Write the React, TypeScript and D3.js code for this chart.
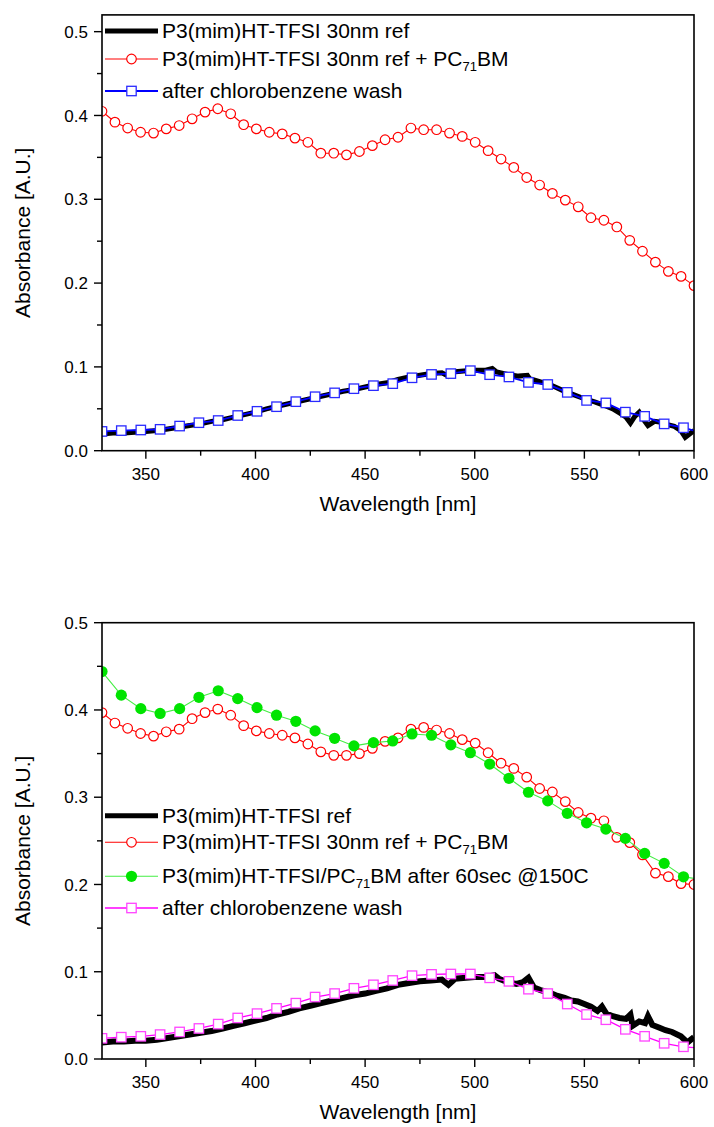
import React from "react";
import * as d3 from "d3";

// ---------- shared axes ----------
const xDomain = [330, 600];
const xMajorTicks = [350, 400, 450, 500, 550, 600];
const xMinorTicks = [375, 425, 475, 525, 575];
const yMajorTicks = [0.0, 0.1, 0.2, 0.3, 0.4, 0.5];
const yMinorTicks = [0.05, 0.15, 0.25, 0.35, 0.45];
const xTitle = "Wavelength [nm]";
const yTitle = "Absorbance [A.U.]";

// marker wavelengths
const circleNm = [330, 335.9, 341.7, 347.6, 353.5, 359.3, 365.2, 371.1, 377.0, 382.8, 388.7, 394.6, 400.4, 406.3, 412.2, 418.0, 423.9, 429.8, 435.7, 441.5, 447.4, 453.3, 459.1, 465.0, 470.9, 476.7, 482.6, 488.5, 494.3, 500.2, 506.1, 512.0, 517.8, 523.7, 529.6, 535.4, 541.3, 547.2, 553.0, 558.9, 564.8, 570.7, 576.5, 582.4, 588.3, 594.1, 600];
const squareNm = [330, 338.8, 347.7, 356.5, 365.4, 374.2, 383.0, 391.9, 400.7, 409.6, 418.4, 427.2, 436.1, 444.9, 453.8, 462.6, 471.4, 480.3, 489.1, 498.0, 506.8, 515.6, 524.5, 533.3, 542.2, 551.0, 559.8, 568.7, 577.5, 586.4, 595.2, 600];

// ---------- top panel ----------
const topBlackNm = [330, 335, 340, 345, 350, 355, 360, 365, 370, 375, 380, 385, 390, 395, 400, 405, 410, 415, 420, 425, 430, 435, 440, 445, 450, 455, 460, 465, 470, 475, 480, 485, 488, 490, 495, 500, 505, 508, 510, 515, 520, 524, 525, 530, 535, 540, 545, 550, 555, 560, 563, 566, 569, 571, 573, 575, 577, 579, 582, 585, 588, 591, 594, 596, 598, 600];
const topBlack = [0.020, 0.021, 0.021, 0.022, 0.023, 0.024, 0.026, 0.028, 0.030, 0.032, 0.035, 0.037, 0.040, 0.043, 0.046, 0.050, 0.053, 0.056, 0.059, 0.062, 0.065, 0.068, 0.071, 0.073, 0.076, 0.079, 0.081, 0.085, 0.088, 0.090, 0.092, 0.093, 0.089, 0.094, 0.095, 0.096, 0.096, 0.098, 0.094, 0.091, 0.089, 0.090, 0.086, 0.082, 0.078, 0.072, 0.067, 0.062, 0.058, 0.053, 0.050, 0.045, 0.040, 0.033, 0.041, 0.046, 0.037, 0.030, 0.035, 0.034, 0.031, 0.029, 0.024, 0.016, 0.020, 0.024];
const topRed = [0.405, 0.392, 0.385, 0.380, 0.379, 0.384, 0.388, 0.396, 0.404, 0.408, 0.402, 0.389, 0.384, 0.380, 0.378, 0.373, 0.368, 0.355, 0.355, 0.353, 0.357, 0.364, 0.371, 0.374, 0.385, 0.383, 0.383, 0.379, 0.375, 0.368, 0.358, 0.348, 0.338, 0.326, 0.317, 0.307, 0.299, 0.291, 0.278, 0.275, 0.267, 0.251, 0.238, 0.225, 0.214, 0.208, 0.197];
const topBlue = [0.023, 0.024, 0.0247, 0.0255, 0.0294, 0.0334, 0.036, 0.042, 0.047, 0.0525, 0.0585, 0.0644, 0.069, 0.074, 0.0776, 0.080, 0.087, 0.091, 0.092, 0.0955, 0.0907, 0.088, 0.0815, 0.079, 0.0696, 0.060, 0.057, 0.046, 0.041, 0.032, 0.0274, 0.024];

// ---------- bottom panel ----------
const botBlackNm = [330, 335, 340, 345, 350, 355, 360, 365, 370, 375, 380, 385, 390, 395, 400, 405, 410, 415, 420, 425, 430, 435, 440, 445, 450, 455, 460, 465, 470, 475, 480, 485, 488, 491, 496, 500, 505, 509, 511, 515, 519, 522, 524.5, 527, 530, 534, 537, 541, 544, 547, 550, 553, 556, 558, 560, 563, 566, 569, 571, 572, 575, 577.7, 579, 581, 584, 587, 590, 594, 597, 600];
const botBlack = [0.019, 0.020, 0.020, 0.021, 0.021, 0.022, 0.024, 0.026, 0.028, 0.030, 0.032, 0.035, 0.038, 0.041, 0.044, 0.047, 0.051, 0.054, 0.058, 0.061, 0.064, 0.067, 0.070, 0.073, 0.075, 0.078, 0.081, 0.085, 0.087, 0.089, 0.090, 0.091, 0.085, 0.092, 0.093, 0.094, 0.094, 0.096, 0.092, 0.088, 0.086, 0.088, 0.093, 0.082, 0.079, 0.076, 0.073, 0.070, 0.067, 0.066, 0.063, 0.060, 0.055, 0.060, 0.052, 0.049, 0.047, 0.046, 0.051, 0.038, 0.043, 0.041, 0.049, 0.039, 0.036, 0.033, 0.031, 0.026, 0.019, 0.025];
const botRed = [0.397, 0.385, 0.379, 0.373, 0.370, 0.375, 0.378, 0.390, 0.397, 0.401, 0.394, 0.382, 0.376, 0.373, 0.371, 0.368, 0.361, 0.352, 0.348, 0.348, 0.350, 0.356, 0.364, 0.368, 0.378, 0.380, 0.377, 0.373, 0.366, 0.362, 0.351, 0.339, 0.333, 0.323, 0.310, 0.306, 0.295, 0.2825, 0.276, 0.273, 0.254, 0.248, 0.234, 0.213, 0.209, 0.201, 0.200];
const botGreen = [0.444, 0.417, 0.4015, 0.396, 0.4015, 0.4145, 0.422, 0.413, 0.4027, 0.394, 0.387, 0.376, 0.3675, 0.3588, 0.3626, 0.3645, 0.3725, 0.371, 0.360, 0.351, 0.338, 0.3217, 0.3057, 0.2958, 0.2816, 0.2707, 0.2635, 0.2528, 0.2356, 0.2242, 0.2088, 0.207];
const botPink = [0.0237, 0.025, 0.026, 0.028, 0.031, 0.035, 0.040, 0.047, 0.052, 0.058, 0.064, 0.071, 0.075, 0.081, 0.085, 0.090, 0.0955, 0.097, 0.0974, 0.0974, 0.093, 0.089, 0.080, 0.075, 0.063, 0.051, 0.045, 0.034, 0.026, 0.018, 0.014, 0.013];

const FONT = "'Liberation Sans', Arial, Helvetica, sans-serif";

type Series = {
  nm: number[];
  vals: number[];
  color: string;
  width: number;
  marker: "none" | "circle" | "square" | "dot";
  markerColor?: string;
  label: { pre: string; sub?: string; post?: string };
};

const X0 = 102, X1 = 694;
const x = d3.scaleLinear().domain(xDomain).range([X0, X1]);

function Marker({ kind, cx, cy, color }: { kind: string; cx: number; cy: number; color: string }) {
  if (kind === "circle")
    return <circle cx={cx} cy={cy} r={4.8} fill="#fff" stroke={color} strokeWidth={1.2} />;
  if (kind === "dot")
    return <circle cx={cx} cy={cy} r={5.6} fill={color} stroke="none" />;
  if (kind === "square")
    return <rect x={cx - 4.7} y={cy - 4.7} width={9.4} height={9.4} fill="#fff" stroke={color} strokeWidth={1.3} />;
  return null;
}

function Panel({
  id, yTop, yBottom, yMax, series, legendRows,
}: {
  id: string; yTop: number; yBottom: number; yMax: number; series: Series[];
  legendRows: number[];
}) {
  const y = d3.scaleLinear().domain([0, yMax]).range([yBottom, yTop]);
  const line = d3.line<[number, number]>().x((d) => x(d[0])).y((d) => y(d[1]));
  const yMid = (yTop + yBottom) / 2;
  return (
    <g>
      <defs>
        <clipPath id={`clip-${id}`}>
          <rect x={X0} y={yTop} width={X1 - X0} height={yBottom - yTop} />
        </clipPath>
      </defs>
      <g clipPath={`url(#clip-${id})`}>
        {series.map((s, i) => {
          const pts = s.nm.map((n, k) => [n, s.vals[k]] as [number, number]);
          return (
            <g key={i}>
              <path d={line(pts) || ""} fill="none" stroke={s.color} strokeWidth={s.width} strokeLinejoin="miter" />
              {s.marker !== "none" &&
                pts
                  .filter((p, k) => !(s.nm === squareNm && k === squareNm.length - 1))
                  .map((p, k) => (
                    <Marker key={k} kind={s.marker} cx={x(p[0])} cy={y(p[1])} color={s.markerColor || s.color} />
                  ))}
            </g>
          );
        })}
      </g>
      <rect x={X0} y={yTop} width={X1 - X0} height={yBottom - yTop} fill="none" stroke="#000" strokeWidth={1.6} />
      {yMajorTicks.map((t) => (
        <g key={"ym" + t}>
          <line x1={X0 - 8} x2={X0} y1={y(t)} y2={y(t)} stroke="#000" strokeWidth={1.4} />
          <text x={X0 - 14} y={y(t)} dy="0.36em" textAnchor="end" fontSize={17} fontFamily={FONT}>
            {t.toFixed(1)}
          </text>
        </g>
      ))}
      {yMinorTicks.map((t) => (
        <line key={"yn" + t} x1={X0 - 5} x2={X0} y1={y(t)} y2={y(t)} stroke="#000" strokeWidth={1.4} />
      ))}
      {xMajorTicks.map((t) => (
        <g key={"xm" + t}>
          <line x1={x(t)} x2={x(t)} y1={yBottom} y2={yBottom + 8} stroke="#000" strokeWidth={1.4} />
          <text x={x(t)} y={yBottom + 29} textAnchor="middle" fontSize={17} fontFamily={FONT}>
            {t}
          </text>
        </g>
      ))}
      {xMinorTicks.map((t) => (
        <line key={"xn" + t} x1={x(t)} x2={x(t)} y1={yBottom} y2={yBottom + 5} stroke="#000" strokeWidth={1.4} />
      ))}
      <text x={(X0 + X1) / 2} y={yBottom + 60} textAnchor="middle" fontSize={21} fontFamily={FONT}>
        {xTitle}
      </text>
      <text transform={`translate(30, ${yMid}) rotate(-90)`} textAnchor="middle" fontSize={21} fontFamily={FONT}>
        {yTitle}
      </text>
      {series.map((s, i) => {
        const base = legendRows[i];
        const sy = base - 7;
        return (
          <g key={"lg" + i}>
            <line x1={105} x2={158} y1={sy} y2={sy} stroke={s.color} strokeWidth={s.marker === "none" ? 5 : s.width} />
            {s.marker !== "none" && <Marker kind={s.marker} cx={131.5} cy={sy} color={s.markerColor || s.color} />}
            <text x={162} y={base} fontSize={21} fontFamily={FONT}>
              {s.label.pre}
              {s.label.sub && (
                <tspan fontSize={13} dy={5}>
                  {s.label.sub}
                </tspan>
              )}
              {s.label.post && <tspan dy={-5}>{s.label.post}</tspan>}
            </text>
          </g>
        );
      })}
    </g>
  );
}

export default function App() {
  const topSeries: Series[] = [
    { nm: topBlackNm, vals: topBlack, color: "#000", width: 5, marker: "none", label: { pre: "P3(mim)HT-TFSI 30nm ref" } },
    { nm: circleNm, vals: topRed, color: "#ff0000", width: 1.1, marker: "circle", label: { pre: "P3(mim)HT-TFSI 30nm ref + PC", sub: "71", post: "BM" } },
    { nm: squareNm, vals: topBlue, color: "#0000ff", width: 1.8, marker: "square", markerColor: "#2a2aff", label: { pre: "after chlorobenzene wash" } },
  ];
  const botSeries: Series[] = [
    { nm: botBlackNm, vals: botBlack, color: "#000", width: 6, marker: "none", label: { pre: "P3(mim)HT-TFSI ref" } },
    { nm: circleNm, vals: botRed, color: "#ff0000", width: 1.1, marker: "circle", label: { pre: "P3(mim)HT-TFSI 30nm ref + PC", sub: "71", post: "BM" } },
    { nm: squareNm, vals: botGreen, color: "#44ee44", width: 1.1, marker: "dot", markerColor: "#00e400", label: { pre: "P3(mim)HT-TFSI/PC", sub: "71", post: "BM after 60sec @150C" } },
    { nm: squareNm, vals: botPink, color: "#ff00ff", width: 1.3, marker: "square", markerColor: "#ff44ff", label: { pre: "after chlorobenzene wash" } },
  ];
  return (
    <svg width={714} height={1127} style={{ position: "absolute", left: 0, top: 0, background: "#fff" }}>
      <rect x={0} y={0} width={714} height={1127} fill="#fff" />
      <Panel id="top" yTop={14.9} yBottom={450.7} yMax={0.52} series={topSeries} legendRows={[38, 66, 98]} />
      <Panel id="bot" yTop={622.7} yBottom={1059} yMax={0.5} series={botSeries} legendRows={[822.7, 849.3, 883.3, 915]} />
    </svg>
  );
}
